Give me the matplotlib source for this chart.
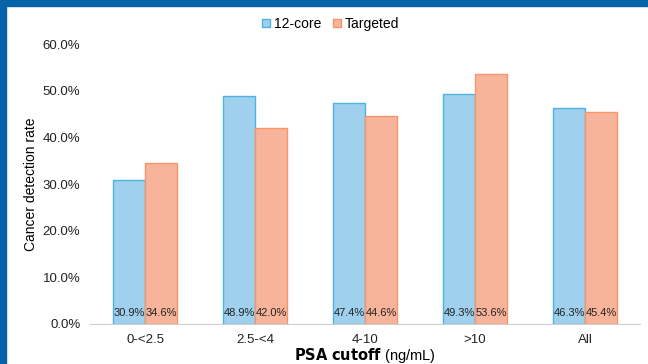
import numpy as np
import matplotlib
matplotlib.use("Agg")
import matplotlib.pyplot as plt
from matplotlib.patches import Rectangle

categories = ["0-<2.5", "2.5-<4", "4-10", ">10", "All"]
core12 = [30.9, 48.9, 47.4, 49.3, 46.3]
targeted = [34.6, 42.0, 44.6, 53.6, 45.4]
yticks = [0, 10, 20, 30, 40, 50, 60]

plt.rcParams['font.family'] = ['Liberation Sans', 'DejaVu Sans']

fig = plt.figure(figsize=(6.48, 3.64), dpi=100)
ax = fig.add_axes([0.139, 0.110, 0.849, 0.769])

x = np.arange(len(categories))
w = 0.29
b1 = ax.bar(x - w / 2, core12, w, color="#9fd0ee", edgecolor="#4db3e4", linewidth=1, label="12-core")
b2 = ax.bar(x + w / 2, targeted, w, color="#f8b49a", edgecolor="#f59568", linewidth=1, label="Targeted")

# value labels sit at the bottom of each bar
for rects, vals in ((b1, core12), (b2, targeted)):
    for r, v in zip(rects, vals):
        ax.text(r.get_x() + r.get_width() / 2, 2.3, "%.1f%%" % v, ha="center", va="center",
                fontsize=8, color="#222222")

ax.set_xlim(-0.5, 4.5)
ax.set_ylim(0, 60)
ax.set_yticks(yticks)
ax.set_yticklabels(["%.1f%%" % t for t in yticks], fontsize=9.5, color="#222222")
ax.set_xticks(x)
ax.set_xticklabels(categories, fontsize=9.5, color="#222222")
ax.tick_params(length=0, pad=7)
for s in ("top", "right", "left"):
    ax.spines[s].set_visible(False)
ax.spines["bottom"].set_color("#d0d0d0")

ax.set_ylabel("Cancer detection rate", fontsize=10, labelpad=3)
ax.set_xlabel(r"$\bf{PSA\ cutoff}$ (ng/mL)", fontsize=10.5, labelpad=0)

fig.legend(loc="upper center", bbox_to_anchor=(0.51, 0.988), ncol=2, frameon=False,
           fontsize=10, handlelength=0.6, handleheight=0.6, handletextpad=0.3, columnspacing=0.8)

# blue frame on the left and top edges
fig.patches.append(Rectangle((0, 0), 6 / 648, 1, transform=fig.transFigure, color="#0563a8", zorder=10))
fig.patches.append(Rectangle((0, 1 - 6 / 364), 1, 6 / 364, transform=fig.transFigure, color="#0563a8", zorder=10))

fig.savefig("out.png", dpi=100)
